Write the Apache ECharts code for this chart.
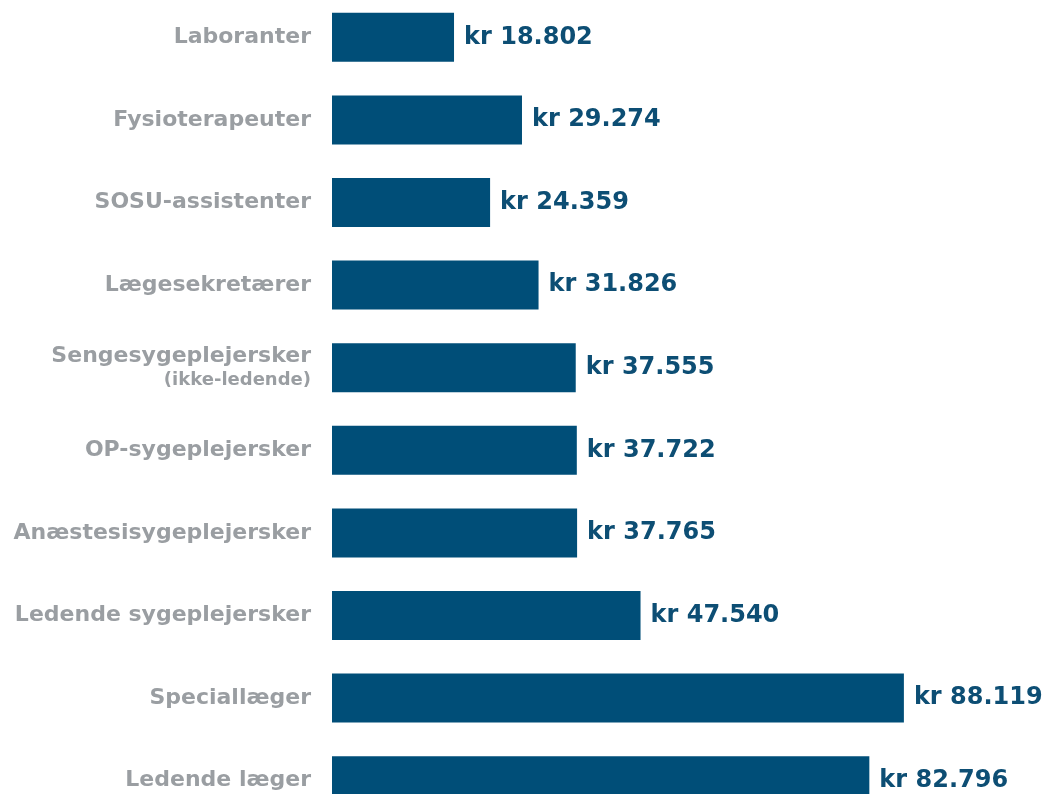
<!DOCTYPE html>
<html>
<head>
<meta charset="utf-8">
<script src="https://cdn.jsdelivr.net/npm/echarts@6/dist/echarts.min.js"></script>
<style>
    html, body { margin: 0; padding: 0; background: #fff; }
    #chart { width: 1044px; height: 794px; }
</style>
</head>
<body>
<div id="chart"></div>
<script>
    // data, top to bottom
    var categories = ['Laboranter', 'Fysioterapeuter', 'SOSU-assistenter', 'Lægesekretærer',
        'Sengesygeplejersker\n(ikke-ledende)', 'OP-sygeplejersker', 'Anæstesisygeplejersker',
        'Ledende sygeplejersker', 'Speciallæger', 'Ledende læger'];
    var values = [18802, 29274, 24359, 31826, 37555, 37722, 37765, 47540, 88119, 82796];

    function fmt(v) {
        return 'kr ' + String(v).replace(/\B(?=(\d{3})+(?!\d))/g, '.');
    }

    var chart = echarts.init(document.getElementById('chart'));
    var option = {
        animation: false,
        grid: { left: 332, top: -4, width: 649, height: 826, outerBoundsMode: 'none' },
        xAxis: {
            type: 'value', min: 0, max: 100000,
            show: false
        },
        yAxis: {
            type: 'category',
            inverse: true,
            data: categories,
            axisLine: { show: false },
            axisTick: { show: false },
            axisLabel: {
                margin: 21,
                fontFamily: 'DejaVu Sans',
                fontWeight: 'bold',
                fontSize: 22,
                color: '#9a9ea2',
                formatter: function (v) {
                    var parts = v.split('\n');
                    if (parts.length > 1) return '{a|' + parts[0] + '}\n{b|' + parts[1] + '}';
                    return v;
                },
                rich: {
                    a: { fontFamily: 'DejaVu Sans', fontWeight: 'bold', fontSize: 22, color: '#9a9ea2', lineHeight: 26, align: 'right' },
                    b: { fontFamily: 'DejaVu Sans', fontWeight: 'bold', fontSize: 18, color: '#9a9ea2', lineHeight: 22, align: 'right' }
                }
            }
        },
        series: [{
            type: 'bar',
            data: values,
            barWidth: 49,
            itemStyle: { color: '#004e78' },
            label: {
                show: true,
                position: 'right',
                distance: 10,
                fontFamily: 'DejaVu Sans',
                fontWeight: 'bold',
                fontSize: 24,
                color: '#0d4e74',
                formatter: function (p) { return fmt(p.value); }
            }
        }]
    };
    chart.setOption(option);
</script>
</body>
</html>
